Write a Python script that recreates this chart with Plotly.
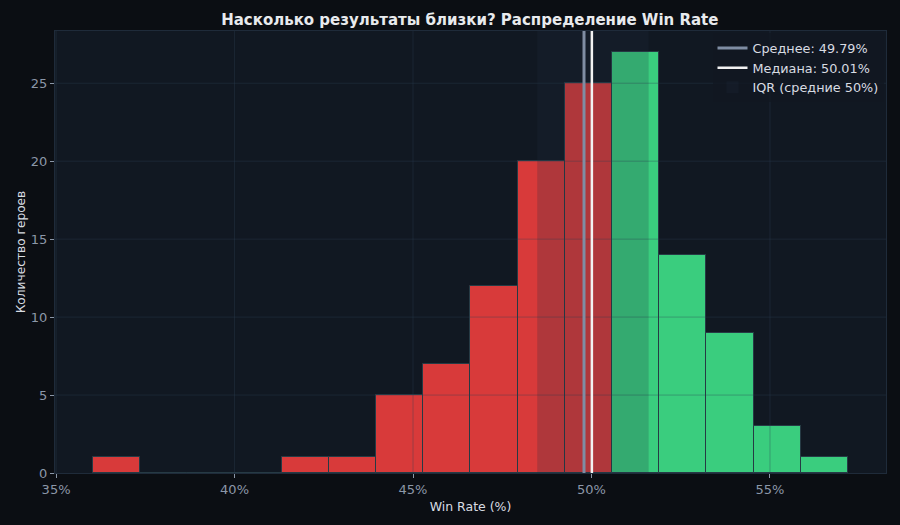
import plotly.graph_objects as go

# ---- data ----
bin_edges = [36.035, 37.357, 38.678, 40.0, 41.322, 42.643, 43.965, 45.287, 46.608,
             47.93, 49.252, 50.573, 51.895, 53.217, 54.538, 55.86, 57.182]
counts = [1, 0, 0, 0, 1, 1, 5, 7, 12, 20, 25, 27, 14, 9, 3, 1]
mean_wr = 49.79
median_wr = 50.01
iqr_low = 48.48
iqr_high = 51.6
x_ticks = [35, 40, 45, 50, 55]
x_tick_labels = ["35%", "40%", "45%", "50%", "55%"]
y_ticks = [0, 5, 10, 15, 20, 25]

title = "Насколько результаты близки? Распределение Win Rate"
x_title = "Win Rate (%)"
y_title = "Количество героев"

# ---- styles ----
RED = "#d83a3a"
GREEN = "#3acd7e"
FONT = "DejaVu Sans"
TICK_C = "#8b97a8"
TEXT_C = "#d8dce2"

centers = [(a + b) / 2 for a, b in zip(bin_edges[:-1], bin_edges[1:])]
widths = [b - a for a, b in zip(bin_edges[:-1], bin_edges[1:])]
colors = [RED if c < 50 else GREEN for c in centers]

fig = go.Figure()
fig.add_trace(go.Bar(
    x=centers, y=counts, width=widths,
    marker=dict(color=colors, line=dict(color="#263a44", width=1)),
    showlegend=False, hoverinfo="x+y",
))

x_range = [34.97, 58.25]
y_range = [0, 28.35]

shapes = []
# grid above bars
for t in x_ticks:
    shapes.append(dict(type="line", xref="x", yref="paper", x0=t, x1=t, y0=0, y1=1,
                       line=dict(color="rgba(45,65,85,0.35)", width=1), layer="above"))
for t in y_ticks[1:]:
    shapes.append(dict(type="line", xref="paper", yref="y", x0=0, x1=1, y0=t, y1=t,
                       line=dict(color="rgba(45,65,85,0.35)", width=1), layer="above"))
# IQR band
shapes.append(dict(type="rect", xref="x", yref="paper", x0=iqr_low, x1=iqr_high, y0=0, y1=1,
                   fillcolor="rgba(30,45,65,0.22)", line=dict(width=0), layer="above",
                   showlegend=True, name="IQR (средние 50%)", legendrank=3))
# mean / median
shapes.append(dict(type="line", xref="x", yref="paper", x0=mean_wr, x1=mean_wr, y0=0, y1=1,
                   line=dict(color="#7f8da3", width=3), layer="above",
                   showlegend=True, name=f"Среднее: {mean_wr:.2f}%", legendrank=1))
shapes.append(dict(type="line", xref="x", yref="paper", x0=median_wr, x1=median_wr, y0=0, y1=1,
                   line=dict(color="#f2f2f2", width=2.5), layer="above",
                   showlegend=True, name=f"Медиана: {median_wr:.2f}%", legendrank=2))

fig.update_layout(
    width=900, height=525,
    paper_bgcolor="#0b0e13",
    plot_bgcolor="#111822",
    margin=dict(l=55, r=14, t=31, b=52),
    font=dict(family=FONT, size=13, color=TEXT_C),
    title=dict(text=f"<b>{title}</b>", x=0.522, xanchor="center", y=0.962, yanchor="middle",
               font=dict(family=FONT, size=15, color="#e8eaed")),
    shapes=shapes,
    bargap=0,
    legend=dict(x=0.997, y=0.995, xanchor="right", yanchor="top",
                bgcolor="rgba(17,24,34,0.8)", font=dict(size=12.8, color=TEXT_C),
                itemwidth=30),
    xaxis=dict(range=x_range, tickvals=x_ticks, ticktext=x_tick_labels, showgrid=False, zeroline=False,
               ticks="outside", ticklen=4, tickcolor=TICK_C, tickfont=dict(color=TICK_C, size=13),
               showline=True, linecolor="#1f2b3a", mirror=True,
               title=dict(text=x_title, font=dict(size=12.5, color=TEXT_C), standoff=6)),
    yaxis=dict(range=y_range, tickvals=y_ticks, showgrid=False, zeroline=False,
               ticks="outside", ticklen=4, tickcolor=TICK_C, tickfont=dict(color=TICK_C, size=13),
               showline=True, linecolor="#1f2b3a", mirror=True,
               title=dict(text=y_title, font=dict(size=12.2, color=TEXT_C), standoff=2)),
)

fig.write_html("out.html", config={"displayModeBar": False})

# remove the default page margin so the figure sits at the window origin
with open("out.html", "r", encoding="utf-8") as f:
    html = f.read()
html = html.replace("<head>", "<head><style>html,body{margin:0;padding:0;background:#0b0e13;overflow:hidden}</style>", 1)
with open("out.html", "w", encoding="utf-8") as f:
    f.write(html)
